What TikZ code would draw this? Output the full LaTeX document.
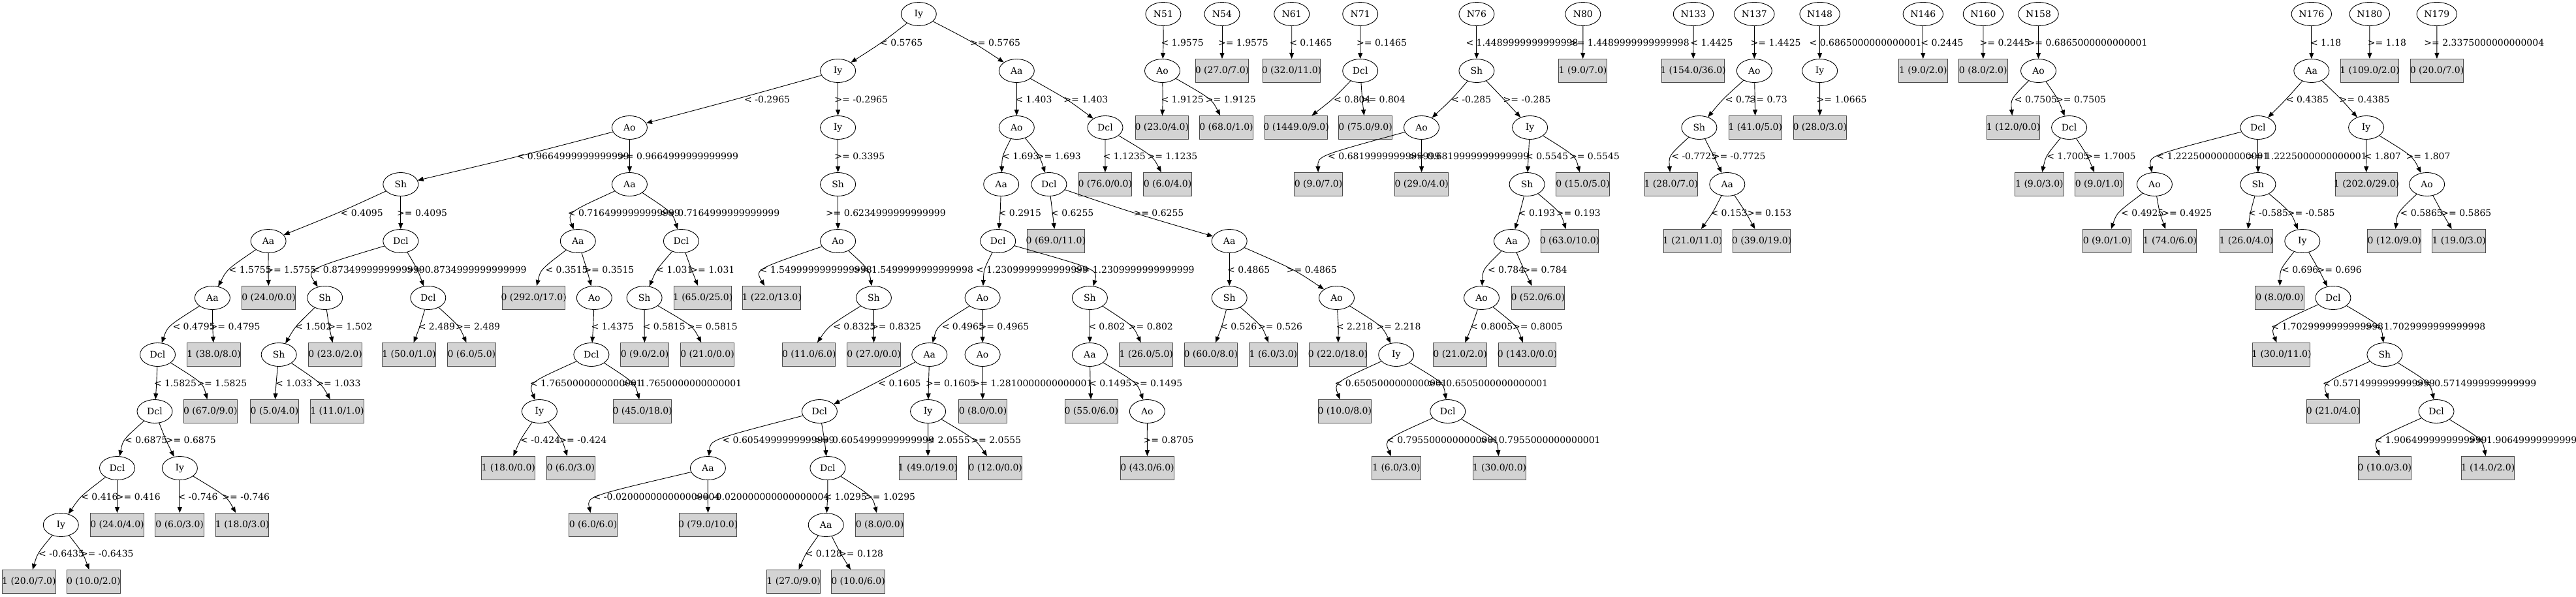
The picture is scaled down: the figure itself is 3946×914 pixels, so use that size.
\documentclass[tikz,border=0pt]{standalone}
\usepackage{fontspec}
\setmainfont{DejaVu Serif}
\newfontfamily\tmfont{Liberation Serif}
\usetikzlibrary{shapes.geometric,arrows.meta,calc}
\definecolor{lgrey}{RGB}{211,211,211}
\newcommand\gvfont{\fontsize{14pt}{16pt}\selectfont}
\newcommand\boxtxt[1]{\setbox0=\hbox{\tmfont #1}\makebox[\wd0]{#1}}
\tikzset{
  ell/.style={ellipse,draw=black,line width=0.9pt,minimum width=54pt,minimum height=36pt,inner sep=0pt,font=\gvfont},
  ellw/.style={ell,minimum width=61.5pt},
  leaf/.style={rectangle,draw=black!70,fill=lgrey,line width=1pt,minimum height=36pt,inner xsep=7.92pt,inner ysep=0pt,font=\gvfont},
  gedge/.style={draw=black,line width=0.9pt,-{Triangle[length=9pt,width=7pt]}},
  glab/.style={anchor=west,inner sep=0pt,font=\gvfont}
}
\newcommand\mkell[4]{\node[ell] (#1) at (#2,{21.5+87*#3}) {#4};}
\newcommand\mkellw[4]{\node[ellw] (#1) at (#2,{21.5+87*#3}) {#4};}
\newcommand\mkbox[4]{\node[leaf] (#1) at (#2,{21.5+87*#3}) {\boxtxt{#4}};}
\newcommand\mkedge[5]{%
  \path let \p1=(#1), \p2=(#2),
    \n1={0.5*(\y1+\y2)},
    \n2={#3pt+(#3pt-0.5*(\x1+\x2))/3}
  in coordinate (kk) at (\n2,\n1) coordinate (ll) at (#4pt,\n1);
  \draw[gedge] (#1) .. controls (kk) .. (#2);
  \node[glab] (lab-#1-#2) at (ll) {#5};}
\begin{document}
\begin{tikzpicture}[x=1pt,y=-1pt]
\useasboundingbox (0,0) rectangle (3946,914);
\fill[white] (0,0) rectangle (3946,914);
% ---------- tree 1 ----------
\mkell{a0}{1407.3}{0}{Iy}
\mkell{a1}{1283.6}{1}{Iy}
\mkell{a2}{1557.3}{1}{Aa}
\mkell{a3}{964.4}{2}{Ao}
\mkell{a4}{1283.6}{2}{Iy}
\mkell{a5}{613.8}{3}{Sh}
\mkell{a6}{964.4}{3}{Aa}
\mkell{a7}{1283.6}{3}{Sh}
\mkell{a8}{411.1}{4}{Aa}
\mkell{a9}{613.8}{4}{Dcl}
\mkell{a10}{885.3}{4}{Aa}
\mkell{a11}{1043.4}{4}{Dcl}
\mkell{a12}{1283.6}{4}{Ao}
\mkell{a13}{325.4}{5}{Aa}
\mkbox{b1}{411.6}{5}{0 (24.0/0.0)}
\mkell{a14}{497.7}{5}{Sh}
\mkell{a15}{655.8}{5}{Dcl}
\mkbox{b2}{817.7}{5}{0 (292.0/17.0)}
\mkell{a16}{910.3}{5}{Ao}
\mkell{a17}{987.1}{5}{Sh}
\mkbox{b3}{1076.6}{5}{1 (65.0/25.0)}
\mkbox{b4}{1182.2}{5}{1 (22.0/13.0)}
\mkell{a18}{1338.4}{5}{Sh}
\mkell{a19}{241.5}{6}{Dcl}
\mkbox{b5}{327.7}{6}{1 (38.0/8.0)}
\mkell{a20}{427.2}{6}{Sh}
\mkbox{b6}{513.6}{6}{0 (23.0/2.0)}
\mkbox{b7}{626.5}{6}{1 (50.0/1.0)}
\mkbox{b8}{722.4}{6}{0 (6.0/5.0)}
\mkell{a21}{905.9}{6}{Dcl}
\mkbox{b9}{987.6}{6}{0 (9.0/2.0)}
\mkbox{b10}{1083.6}{6}{0 (21.0/0.0)}
\mkbox{b11}{1239.3}{6}{0 (11.0/6.0)}
\mkbox{b12}{1338.7}{6}{0 (27.0/0.0)}
\mkell{a22}{237}{7}{Dcl}
\mkbox{b13}{322.3}{7}{0 (67.0/9.0)}
\mkbox{b14}{420.5}{7}{0 (5.0/4.0)}
\mkbox{b15}{516.5}{7}{1 (11.0/1.0)}
\mkell{a23}{826.4}{7}{Iy}
\mkbox{b16}{984.2}{7}{0 (45.0/18.0)}
\mkell{a24}{179.5}{8}{Dcl}
\mkell{a25}{275.4}{8}{Iy}
\mkbox{b17}{778.7}{8}{1 (18.0/0.0)}
\mkbox{b18}{874.4}{8}{0 (6.0/3.0)}
\mkell{a26}{93.3}{9}{Iy}
\mkbox{b19}{179.5}{9}{0 (24.0/4.0)}
\mkbox{b20}{275.2}{9}{0 (6.0/3.0)}
\mkbox{b21}{371.2}{9}{1 (18.0/3.0)}
\mkbox{b22}{44.4}{10}{1 (20.0/7.0)}
\mkbox{b23}{143.3}{10}{0 (10.0/2.0)}
\mkell{a27}{1557.3}{2}{Ao}
\mkell{a28}{1693}{2}{Dcl}
\mkell{a29}{1533.7}{3}{Aa}
\mkell{a30}{1606.9}{3}{Dcl}
\mkbox{b24}{1692.8}{3}{0 (76.0/0.0)}
\mkbox{b25}{1788.5}{3}{0 (6.0/4.0)}
\mkell{a31}{1528.7}{4}{Dcl}
\mkbox{b26}{1617.4}{4}{0 (69.0/11.0)}
\mkell{a32}{1883.2}{4}{Aa}
\mkell{a33}{1505.1}{5}{Ao}
\mkell{a34}{1669.4}{5}{Sh}
\mkell{a35}{1883.2}{5}{Sh}
\mkell{a36}{2047.5}{5}{Ao}
\mkell{a37}{1423.8}{6}{Aa}
\mkell{a38}{1505.1}{6}{Ao}
\mkell{a39}{1669.4}{6}{Aa}
\mkbox{b27}{1755.7}{6}{1 (26.0/5.0)}
\mkbox{b28}{1854.8}{6}{0 (60.0/8.0)}
\mkbox{b29}{1950.4}{6}{1 (6.0/3.0)}
\mkbox{b30}{2049.5}{6}{0 (22.0/18.0)}
\mkell{a40}{2138.7}{6}{Iy}
\mkell{a41}{1255.4}{7}{Dcl}
\mkell{a42}{1421.6}{7}{Iy}
\mkbox{b31}{1505.5}{7}{0 (8.0/0.0)}
\mkbox{b32}{1671.8}{7}{0 (55.0/6.0)}
\mkell{a43}{1757.3}{7}{Ao}
\mkbox{b33}{2059.8}{7}{0 (10.0/8.0)}
\mkell{a44}{2217.7}{7}{Dcl}
\mkell{a45}{1084.4}{8}{Aa}
\mkell{a46}{1267.9}{8}{Dcl}
\mkbox{b34}{1421.4}{8}{1 (49.0/19.0)}
\mkbox{b35}{1524.7}{8}{0 (12.0/0.0)}
\mkbox{b36}{1757.5}{8}{0 (43.0/6.0)}
\mkbox{b37}{2138.9}{8}{1 (6.0/3.0)}
\mkbox{b38}{2296.9}{8}{1 (30.0/0.0)}
\mkbox{b39}{908.6}{9}{0 (6.0/6.0)}
\mkbox{b40}{1084.7}{9}{0 (79.0/10.0)}
\mkell{a47}{1265.2}{9}{Aa}
\mkbox{b41}{1347.5}{9}{0 (8.0/0.0)}
\mkbox{b42}{1215.7}{10}{1 (27.0/9.0)}
\mkbox{b43}{1314.6}{10}{0 (10.0/6.0)}
% ---------- forest ----------
\mkell{c1}{1781.9}{0}{N51}
\mkell{c2}{1872}{0}{N54}
\mkell{c3}{1978.7}{0}{N61}
\mkell{c4}{2083.7}{0}{N71}
\mkell{c5}{2261.9}{0}{N76}
\mkell{c6}{2424.8}{0}{N80}
\mkellw{c7}{2594}{0}{N133}
\mkellw{c8}{2687.3}{0}{N137}
\mkellw{c9}{2787.6}{0}{N148}
\mkellw{c10}{2945.8}{0}{N146}
\mkellw{c11}{3037.9}{0}{N160}
\mkellw{c12}{3122.5}{0}{N158}
\mkellw{c13}{3540.8}{0}{N176}
\mkellw{c14}{3629.8}{0}{N180}
\mkellw{c15}{3732.8}{0}{N179}
\mkell{d1}{1780.5}{1}{Ao}
\mkbox{e1}{1872}{1}{0 (27.0/7.0)}
\mkbox{e2}{1978.5}{1}{0 (32.0/11.0)}
\mkell{d2}{2083.7}{1}{Dcl}
\mkell{d3}{2261.9}{1}{Sh}
\mkbox{e3}{2424.6}{1}{1 (9.0/7.0)}
\mkbox{e4}{2593.5}{1}{1 (154.0/36.0)}
\mkell{d4}{2687.3}{1}{Ao}
\mkell{d5}{2787.6}{1}{Iy}
\mkbox{e5}{2945.8}{1}{1 (9.0/2.0)}
\mkbox{e6}{3037.7}{1}{0 (8.0/2.0)}
\mkell{d6}{3122.5}{1}{Ao}
\mkell{d7}{3540.8}{1}{Aa}
\mkbox{e7}{3630}{1}{1 (109.0/2.0)}
\mkbox{e8}{3733}{1}{0 (20.0/7.0)}
\mkbox{e9}{1779.8}{2}{0 (23.0/4.0)}
\mkbox{e10}{1878.5}{2}{0 (68.0/1.0)}
\mkbox{e11}{1985.6}{2}{0 (1449.0/9.0)}
\mkbox{e12}{2091.6}{2}{0 (75.0/9.0)}
\mkell{d8}{2177.5}{2}{Ao}
\mkell{d9}{2343.6}{2}{Iy}
\mkell{d10}{2602.9}{2}{Sh}
\mkbox{e13}{2688.8}{2}{1 (41.0/5.0)}
\mkbox{e14}{2787.8}{2}{0 (28.0/3.0)}
\mkbox{e15}{3084}{2}{1 (12.0/0.0)}
\mkell{d11}{3169.6}{2}{Dcl}
\mkell{d12}{3458.9}{2}{Dcl}
\mkell{d13}{3624.6}{2}{Iy}
\mkbox{e16}{2019.6}{3}{0 (9.0/7.0)}
\mkbox{e17}{2177.7}{3}{0 (29.0/4.0)}
\mkell{d14}{2339.1}{3}{Sh}
\mkbox{e18}{2424.6}{3}{0 (15.0/5.0)}
\mkbox{e19}{2559.8}{3}{1 (28.0/7.0)}
\mkell{d15}{2645.8}{3}{Aa}
\mkbox{e20}{3123.9}{3}{1 (9.0/3.0)}
\mkbox{e21}{3215.6}{3}{0 (9.0/1.0)}
\mkell{d16}{3300.4}{3}{Ao}
\mkell{d17}{3458.9}{3}{Sh}
\mkbox{e22}{3625}{3}{1 (202.0/29.0)}
\mkell{d18}{3717.6}{3}{Ao}
\mkell{d19}{2315.4}{4}{Aa}
\mkbox{e23}{2404.5}{4}{0 (63.0/10.0)}
\mkbox{e24}{2592.7}{4}{1 (21.0/11.0)}
\mkbox{e25}{2698.6}{4}{0 (39.0/19.0)}
\mkbox{e26}{3227.5}{4}{0 (9.0/1.0)}
\mkbox{e27}{3323.9}{4}{1 (74.0/6.0)}
\mkbox{e28}{3440.8}{4}{1 (26.0/4.0)}
\mkell{d20}{3526.8}{4}{Iy}
\mkbox{e29}{3667.7}{4}{0 (12.0/9.0)}
\mkbox{e30}{3766.7}{4}{1 (19.0/3.0)}
\mkell{d21}{2269.5}{5}{Ao}
\mkbox{e31}{2355.8}{5}{0 (52.0/6.0)}
\mkbox{e32}{3492.1}{5}{0 (8.0/0.0)}
\mkell{d22}{3573.9}{5}{Dcl}
\mkbox{e33}{2236.6}{6}{0 (21.0/2.0)}
\mkbox{e34}{2339.5}{6}{0 (143.0/0.0)}
\mkbox{e35}{3494.8}{6}{1 (30.0/11.0)}
\mkell{d23}{3652.9}{6}{Sh}
\mkbox{e36}{3574.1}{7}{0 (21.0/4.0)}
\mkell{d24}{3732}{7}{Dcl}
\mkbox{e37}{3652.9}{8}{0 (10.0/3.0)}
\mkbox{e38}{3811}{8}{1 (14.0/2.0)}
% ---------- edges tree 1 ----------
\mkedge{a0}{a1}{1350}{1348}{< 0.5765}
\mkedge{a0}{a2}{1489}{1486}{>= 0.5765}
\mkedge{a1}{a3}{1127}{1140}{< -0.2965}
\mkedge{a1}{a4}{1283.6}{1278.2}{>= -0.2965}
\mkedge{a4}{a7}{1283.6}{1278.2}{>= 0.3395}
\mkedge{a7}{a12}{1283.6}{1264.8}{>= 0.6234999999999999}
\mkedge{a12}{b4}{1175.5}{1163.5}{< 1.5499999999999998}
\mkedge{a12}{a18}{1326}{1307}{>= 1.5499999999999998}
\mkedge{a18}{b11}{1274}{1276}{< 0.8325}
\mkedge{a18}{b12}{1338.4}{1334}{>= 0.8325}
\mkedge{a3}{a5}{796}{791.6}{< 0.9664999999999999}
\mkedge{a3}{a6}{964.4}{947}{>= 0.9664999999999999}
\mkedge{a5}{a8}{517.6}{521.4}{< 0.4095}
\mkedge{a5}{a9}{613.8}{608}{>= 0.4095}
\mkedge{a8}{a13}{352.7}{350.4}{< 1.5755}
\mkedge{a8}{b1}{411.1}{407.1}{>= 1.5755}
\mkedge{a9}{a14}{491}{478.5}{< 0.8734999999999999}
\mkedge{a9}{a15}{638.4}{622.7}{>= 0.8734999999999999}
\mkedge{a13}{a19}{263.4}{264.3}{< 0.4795}
\mkedge{a13}{b5}{325.9}{321.4}{>= 0.4795}
\mkedge{a14}{a20}{455}{451.8}{< 1.502}
\mkedge{a14}{b6}{504.4}{502.2}{>= 1.502}
\mkedge{a15}{b7}{642.8}{640.6}{< 2.489}
\mkedge{a15}{b8}{700}{697.9}{>= 2.489}
\mkedge{a19}{a22}{239.7}{235.7}{< 1.5825}
\mkedge{a19}{b13}{303.6}{301.3}{>= 1.5825}
\mkedge{a20}{b14}{423.2}{421.9}{< 1.033}
\mkedge{a20}{b15}{486.6}{484.3}{>= 1.033}
\mkedge{a22}{a24}{193.3}{191}{< 0.6875}
\mkedge{a22}{a25}{254.4}{253.6}{>= 0.6875}
\mkedge{a24}{a26}{126.3}{124.1}{< 0.416}
\mkedge{a24}{b19}{179.5}{177.7}{>= 0.416}
\mkedge{a25}{b20}{275.4}{272.3}{< -0.746}
\mkedge{a25}{b21}{341.5}{340.2}{>= -0.746}
\mkedge{a26}{b22}{60.3}{58.9}{< -0.6435}
\mkedge{a26}{b23}{125}{122.8}{>= -0.6435}
\mkedge{a6}{a10}{883.1}{869.7}{< 0.7164999999999999}
\mkedge{a6}{a11}{1023.7}{1010.3}{>= 0.7164999999999999}
\mkedge{a10}{b2}{834}{835.3}{< 0.3515}
\mkedge{a10}{a16}{898.7}{894.3}{>= 0.3515}
\mkedge{a11}{a17}{1008.1}{1005}{< 1.031}
\mkedge{a11}{b3}{1059.4}{1057.2}{>= 1.031}
\mkedge{a16}{a21}{908.6}{905.4}{< 1.4375}
\mkedge{a17}{b9}{987.1}{984.4}{< 0.5815}
\mkedge{a17}{b10}{1055}{1052.7}{>= 0.5815}
\mkedge{a21}{a23}{823.7}{811.7}{< 1.7650000000000001}
\mkedge{a21}{b16}{965.7}{952.3}{>= 1.7650000000000001}
\mkedge{a23}{b17}{798.3}{797}{< -0.424}
\mkedge{a23}{b18}{858.6}{856.3}{>= -0.424}
\mkedge{a41}{a45}{1108.5}{1106.3}{< 0.6054999999999999}
\mkedge{a41}{a46}{1262.6}{1247}{>= 0.6054999999999999}
\mkedge{a45}{b39}{923.3}{908.6}{< -0.020000000000000004}
\mkedge{a45}{b40}{1084.4}{1063.9}{>= -0.020000000000000004}
\mkedge{a46}{a47}{1267.5}{1262.6}{< 1.0295}
\mkedge{a46}{b41}{1329.5}{1325}{>= 1.0295}
\mkedge{a47}{b42}{1235.8}{1233.5}{< 0.128}
\mkedge{a47}{b43}{1288}{1284.9}{>= 0.128}
\mkedge{a2}{a27}{1557.3}{1555.1}{< 1.403}
\mkedge{a2}{a28}{1632.3}{1629.2}{>= 1.403}
\mkedge{a27}{a29}{1537.7}{1535}{< 1.693}
\mkedge{a27}{a30}{1589.9}{1587.7}{>= 1.693}
\mkedge{a28}{b24}{1693}{1689.4}{< 1.1235}
\mkedge{a28}{b25}{1759.5}{1757.3}{>= 1.1235}
\mkedge{a29}{a31}{1531.9}{1529.6}{< 0.2915}
\mkedge{a30}{b26}{1612.2}{1610}{< 0.6255}
\mkedge{a30}{a32}{1737.2}{1736.3}{>= 0.6255}
\mkedge{a31}{a33}{1509.5}{1494.8}{< 1.2309999999999999}
\mkedge{a31}{a34}{1661.3}{1645.7}{>= 1.2309999999999999}
\mkedge{a32}{a35}{1883.2}{1880}{< 0.4865}
\mkedge{a32}{a36}{1978.3}{1970.7}{>= 0.4865}
\mkedge{a33}{a37}{1442.6}{1442.6}{< 0.4965}
\mkedge{a33}{a38}{1505.1}{1499.3}{>= 0.4965}
\mkedge{a37}{a41}{1340.7}{1345.2}{< 0.1605}
\mkedge{a37}{a42}{1422.5}{1418}{>= 0.1605}
\mkedge{a38}{b31}{1505.1}{1489.5}{>= 1.2810000000000001}
\mkedge{a34}{a39}{1669.4}{1667.1}{< 0.802}
\mkedge{a34}{b27}{1730.5}{1728.7}{>= 0.802}
\mkedge{a35}{b28}{1871.1}{1868.9}{< 0.526}
\mkedge{a35}{b29}{1929.2}{1926.9}{>= 0.526}
\mkedge{a36}{b30}{2049.8}{2046.7}{< 2.218}
\mkedge{a36}{a40}{2111.4}{2108.3}{>= 2.218}
\mkedge{a42}{b34}{1421.6}{1420.3}{< 2.0555}
\mkedge{a42}{b35}{1489.5}{1487.2}{>= 2.0555}
\mkedge{a39}{b32}{1670.2}{1668}{< 0.1495}
\mkedge{a39}{a43}{1735}{1734.1}{>= 0.1495}
\mkedge{a43}{b36}{1757.3}{1751.5}{>= 0.8705}
\mkedge{a40}{b33}{2057}{2044.5}{< 0.6505000000000001}
\mkedge{a40}{a44}{2203}{2187.3}{>= 0.6505000000000001}
\mkedge{a44}{b37}{2134.6}{2123.9}{< 0.7955000000000001}
\mkedge{a44}{b38}{2284.6}{2267.7}{>= 0.7955000000000001}
% ---------- edges forest ----------
\mkedge{c1}{d1}{1781.9}{1778.3}{< 1.9575}
\mkedge{c2}{e1}{1872}{1865.8}{>= 1.9575}
\mkedge{c3}{e2}{1978.7}{1975.1}{< 0.1465}
\mkedge{c4}{d2}{2083.7}{2077.9}{>= 0.1465}
\mkedge{c5}{d3}{2261.9}{2245.3}{< 1.4489999999999998}
\mkedge{c6}{e3}{2424.8}{2403.8}{>= 1.4489999999999998}
\mkedge{c7}{e4}{2594}{2589.1}{< 1.4425}
\mkedge{c8}{d4}{2687.3}{2681.5}{>= 1.4425}
\mkedge{d1}{e9}{1781}{1778.3}{< 1.9125}
\mkedge{d1}{e10}{1849.7}{1846.6}{>= 1.9125}
\mkedge{d2}{e11}{2040}{2043}{< 0.804}
\mkedge{d2}{e12}{2086.9}{2084.6}{>= 0.804}
\mkedge{d3}{d8}{2223}{2223}{< -0.285}
\mkedge{d3}{d9}{2303.4}{2302.5}{>= -0.285}
\mkedge{d4}{d10}{2640.4}{2642.6}{< 0.73}
\mkedge{d4}{e13}{2688.2}{2678.4}{>= 0.73}
\mkedge{d8}{e16}{2038.5}{2034}{< 0.6819999999999999}
\mkedge{d8}{e17}{2177.5}{2158.3}{>= 0.6819999999999999}
\mkedge{d9}{d14}{2341.3}{2336.9}{< 0.5545}
\mkedge{d9}{e18}{2406}{2403.8}{>= 0.5545}
\mkedge{d10}{e19}{2562.3}{2560.1}{< -0.7725}
\mkedge{d10}{d15}{2624.8}{2622.6}{>= -0.7725}
\mkedge{d14}{d19}{2327.9}{2325.7}{< 0.193}
\mkedge{d14}{e23}{2386}{2383.7}{>= 0.193}
\mkedge{d15}{e24}{2622.6}{2620.3}{< 0.153}
\mkedge{d15}{e25}{2673.9}{2676.1}{>= 0.153}
\mkedge{d19}{d21}{2276.6}{2278.8}{< 0.784}
\mkedge{d19}{e31}{2334.6}{2332.4}{>= 0.784}
\mkedge{d21}{e33}{2254.3}{2252}{< 0.8005}
\mkedge{d21}{e34}{2319}{2316.8}{>= 0.8005}
\mkedge{c9}{d5}{2787.6}{2771.4}{< 0.6865000000000001}
\mkedge{c10}{e5}{2945.8}{2942.2}{< 0.2445}
\mkedge{c11}{e6}{3037.9}{3032.4}{>= 0.2445}
\mkedge{c12}{d6}{3122.5}{3105.5}{>= 0.6865000000000001}
\mkedge{d5}{e14}{2787.6}{2782.5}{>= 1.0665}
\mkedge{d6}{e15}{3085.7}{3085.7}{< 0.7505}
\mkedge{d6}{d11}{3151}{3149}{>= 0.7505}
\mkedge{d11}{e20}{3137.1}{3135.2}{< 1.7005}
\mkedge{d11}{e21}{3196.5}{3194.5}{>= 1.7005}
\mkedge{d16}{e26}{3247.9}{3249}{< 0.4925}
\mkedge{d16}{e27}{3309.1}{3311.1}{>= 0.4925}
\mkedge{c13}{d7}{3540.8}{3538.8}{< 1.18}
\mkedge{c14}{e7}{3629.8}{3626.6}{>= 1.18}
\mkedge{c15}{e8}{3732.8}{3713.2}{>= 2.3375000000000004}
\mkedge{d7}{d12}{3501.6}{3501.6}{< 0.4385}
\mkedge{d7}{d13}{3585.5}{3583.5}{>= 0.4385}
\mkedge{d12}{d16}{3313.1}{3303.2}{< 1.2225000000000001}
\mkedge{d12}{d17}{3458.9}{3441.8}{>= 1.2225000000000001}
\mkedge{d13}{e22}{3624.6}{3621.4}{< 1.807}
\mkedge{d13}{d18}{3689.3}{3685.3}{>= 1.807}
\mkedge{d17}{e28}{3447.7}{3443.8}{< -0.585}
\mkedge{d17}{d20}{3505.6}{3503.6}{>= -0.585}
\mkedge{d18}{e29}{3677.3}{3676.5}{< 0.5865}
\mkedge{d18}{e30}{3741.2}{3739.2}{>= 0.5865}
\mkedge{d20}{e32}{3496.8}{3494.9}{< 0.696}
\mkedge{d20}{d22}{3551.5}{3549.5}{>= 0.696}
\mkedge{d22}{e35}{3491.7}{3478.9}{< 1.7029999999999998}
\mkedge{d22}{d23}{3639.4}{3623.4}{>= 1.7029999999999998}
\mkedge{d23}{e36}{3571.5}{3557.9}{< 0.5714999999999999}
\mkedge{d23}{d24}{3715.2}{3701.2}{>= 0.5714999999999999}
\mkedge{d24}{e37}{3649.3}{3637.4}{< 1.9064999999999999}
\mkedge{d24}{e38}{3795.1}{3781.1}{>= 1.9064999999999999}
\end{tikzpicture}
\end{document}
